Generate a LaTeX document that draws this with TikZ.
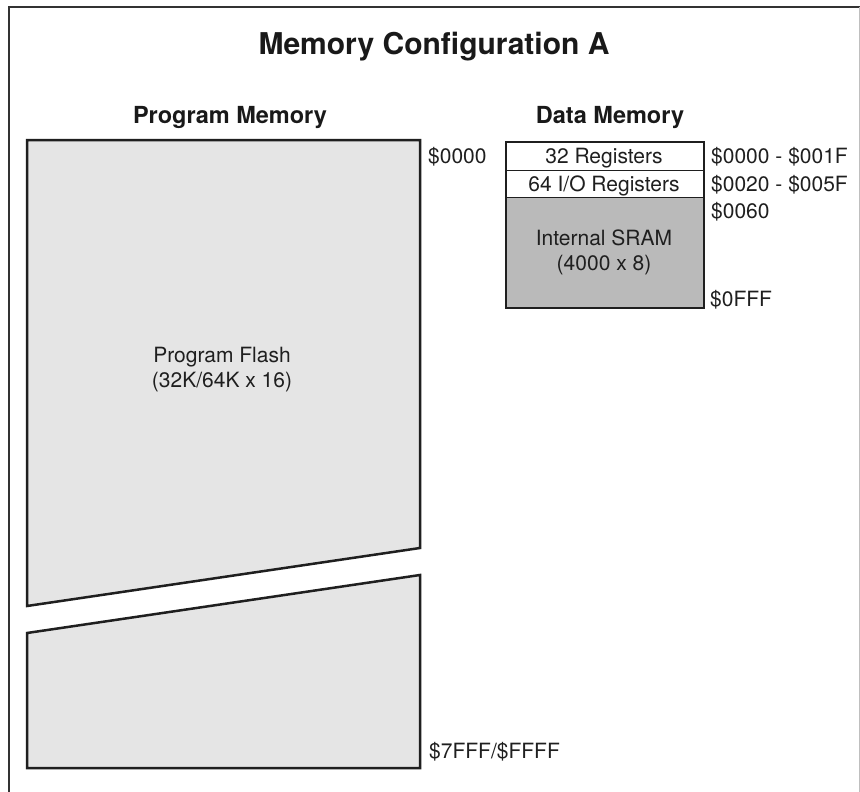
\documentclass[tikz,border=0pt]{standalone}
\usepackage{fontspec}
\setmainfont{TeX Gyre Heros}
\tikzset{
  x=1pt, y=-1pt,
  membox/.style={draw=black!88, line width=2.5pt, line join=miter},
  flashfill/.style={fill=black!10},
  sramfill/.style={fill=black!27},
  lbl/.style={inner sep=0pt, font=\fontsize{21}{24}\selectfont, text=black!88},
  addr/.style={lbl, anchor=base west},
  hdr/.style={inner sep=0pt, font=\fontsize{23.5}{28}\bfseries, text=black!90, anchor=base},
}
\begin{document}
\begin{tikzpicture}
\useasboundingbox (0,0) rectangle (860,792);
\fill[white] (0,0) rectangle (860,792);
% frame
\draw[line width=1.6pt, black!80] (9,800) -- (9,7) -- (870,7);
\draw[line width=0.8pt, black!25] (859,7) -- (859,800);
% titles
\node[hdr, font=\fontsize{30}{34}\bfseries] (title) at (434,55) {Memory Configuration A};
\node[hdr] (pmh) at (230,124) {Program Memory};
\node[hdr] (dmh) at (610,124) {Data Memory};
% program memory
\draw[membox, flashfill] (27,140) -- (420,140) -- (420,548) -- (27,606) -- cycle;
\draw[membox, flashfill] (27,633) -- (420,575) -- (420,768) -- (27,768) -- cycle;
\node[lbl, anchor=base] (pf1) at (222,362) {Program Flash};
\node[lbl, anchor=base] (pf2) at (222,387) {(32K/64K x 16)};
\node[addr] (a0) at (428,163) {\$0000};
\node[addr] (a7) at (429,758) {\$7FFF/\$FFFF};
% data memory
\fill[white] (506,142) rectangle (704,197);
\fill[black!27] (506,197) rectangle (704,308);
\draw[line width=1pt, black!88] (506,170) -- (704,170);
\draw[line width=1pt, black!88] (506,197) -- (704,197);
\draw[membox] (506,142) rectangle (704,308);
\node[lbl, anchor=base] (r32) at (604,163) {32 Registers};
\node[lbl, anchor=base] (r64) at (604,191) {64 I/O Registers};
\node[lbl, anchor=base] (sr1) at (604,245) {Internal SRAM};
\node[lbl, anchor=base] (sr2) at (604,270) {(4000 x 8)};
\node[addr] (d0) at (711,163) {\$0000 - \$001F};
\node[addr] (d1) at (711,191) {\$0020 - \$005F};
\node[addr] (d2) at (711,218) {\$0060};
\node[addr] (d3) at (710,306) {\$0FFF};
\end{tikzpicture}
\end{document}
